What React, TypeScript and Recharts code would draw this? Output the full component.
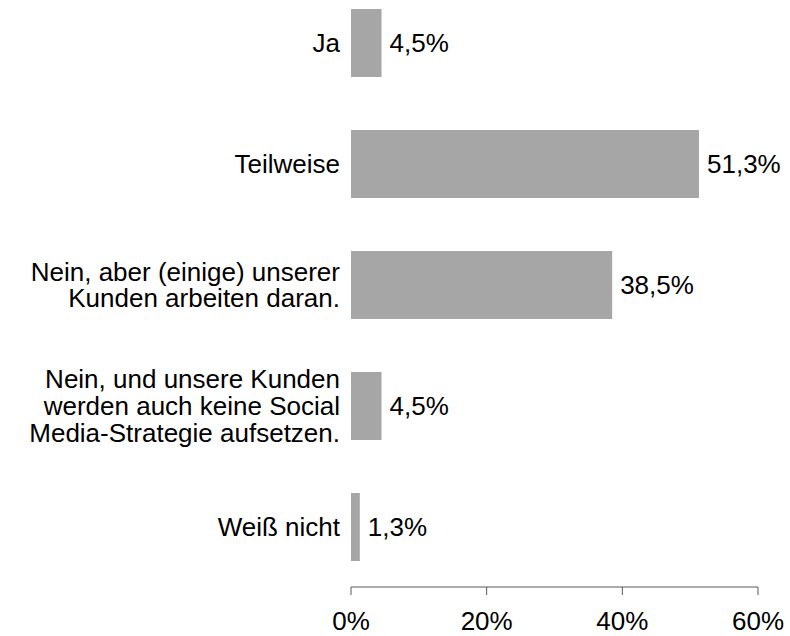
import React from "react";
import { BarChart, Bar, XAxis, YAxis, LabelList } from "recharts";

const categories: string[] = [
  "Ja",
  "Teilweise",
  "Nein, aber (einige) unserer\nKunden arbeiten daran.",
  "Nein, und unsere Kunden\nwerden auch keine Social\nMedia-Strategie aufsetzen.",
  "Weiß nicht",
];
const shares: number[] = [4.5, 51.3, 38.5, 4.5, 1.3];
const xTicks: number[] = [0, 20, 40, 60];

const data = categories.map((name, i) => ({ name, value: shares[i] }));

const FONT = "'Liberation Sans', Arial, Helvetica, sans-serif";
const FONT_SIZE = 26;
const LINE_H = 26.7;

const CategoryTick = (props: any) => {
  const { x, y, payload } = props;
  const lines = String(payload.value).split("\n");
  const n = lines.length;
  return (
    <text
      x={x}
      y={y}
      textAnchor="end"
      fontFamily={FONT}
      fontSize={FONT_SIZE}
      fill="#000"
    >
      {lines.map((ln, i) => (
        <tspan key={i} x={x} y={y + 9.5 + (i - (n - 1) / 2) * LINE_H}>
          {ln}
        </tspan>
      ))}
    </text>
  );
};

const PctTick = (props: any) => {
  const { x, y, payload } = props;
  return (
    <text
      x={x}
      y={y}
      textAnchor="middle"
      fontFamily={FONT}
      fontSize={FONT_SIZE}
      fill="#000"
    >
      {`${payload.value}%`}
    </text>
  );
};

const fmtPct = (v: number) => `${String(v).replace(".", ",")}%`;

export default function App() {
  return (
    <div
      style={{
        width: 790,
        height: 636,
        overflow: "hidden",
        background: "#fff",
      }}
    >
      <style>{`html,body{margin:0;padding:0;overflow:hidden;}`}</style>
      <BarChart
        width={790}
        height={636}
        data={data}
        layout="vertical"
        margin={{ top: -18, right: 32, bottom: 0, left: 0 }}
      >
        <XAxis
          type="number"
          domain={[0, 60]}
          ticks={xTicks}
          height={49}
          tickSize={8}
          interval={0}
          stroke="#595959"
          axisLine={{ stroke: "#595959", strokeWidth: 1 }}
          tickLine={{ stroke: "#595959", strokeWidth: 1 }}
          tick={(p: any) => <PctTick {...p} y={630} />}
        />
        <YAxis
          type="category"
          dataKey="name"
          width={351}
          axisLine={false}
          tickLine={false}
          interval={0}
          tick={(p: any) => <CategoryTick {...p} x={340} />}
        />
        <Bar dataKey="value" fill="#a6a6a6" barSize={68} isAnimationActive={false}>
          <LabelList
            dataKey="value"
            position="right"
            offset={8}
            formatter={(v: any) => fmtPct(Number(v))}
            fill="#000"
            fontSize={FONT_SIZE}
            fontFamily={FONT}
          />
        </Bar>
      </BarChart>
    </div>
  );
}
